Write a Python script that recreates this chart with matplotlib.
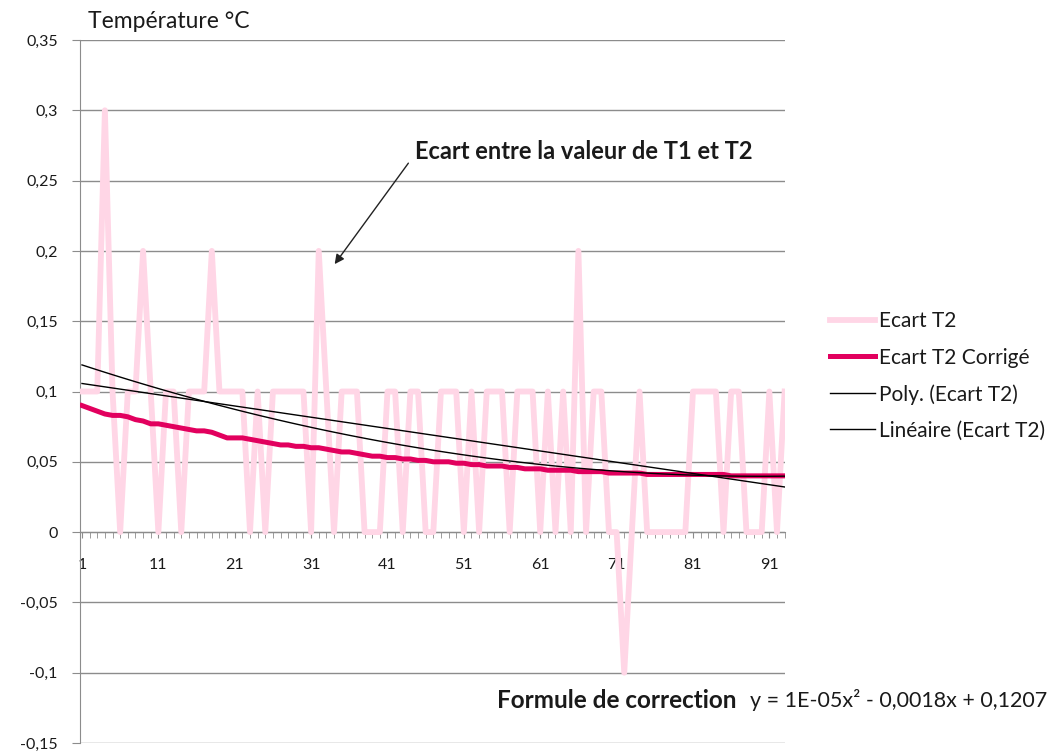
import numpy as np
import matplotlib
matplotlib.use("Agg")
import matplotlib.pyplot as plt
from matplotlib.ticker import FixedLocator

plt.rcParams['font.family'] = ['Lato', 'DejaVu Sans']

ecart_t2 = [
    0.1, 0.1, 0.1, 0.3, 0.1, 0.0, 0.1, 0.1, 0.2, 0.1,
    0.0, 0.1, 0.1, 0.0, 0.1, 0.1, 0.1, 0.2, 0.1, 0.1,
    0.1, 0.1, 0.0, 0.1, 0.0, 0.1, 0.1, 0.1, 0.1, 0.1,
    0.0, 0.2, 0.1, 0.0, 0.1, 0.1, 0.1, 0.0, 0.0, 0.0,
    0.1, 0.1, 0.0, 0.1, 0.1, 0.0, 0.0, 0.1, 0.1, 0.1,
    0.0, 0.1, 0.0, 0.1, 0.1, 0.1, 0.0, 0.1, 0.1, 0.1,
    0.0, 0.1, 0.0, 0.1, 0.0, 0.2, 0.0, 0.1, 0.1, 0.0,
    0.0, -0.1, 0.0, 0.1, 0.0, 0.0, 0.0, 0.0, 0.0, 0.0,
    0.1, 0.1, 0.1, 0.1, 0.0, 0.1, 0.1, 0.0, 0.0, 0.0,
    0.1, 0.0, 0.1,
]
ecart_t2_corr = [
    0.090, 0.088, 0.086, 0.084, 0.083, 0.083, 0.082, 0.080, 0.079, 0.077,
    0.077, 0.076, 0.075, 0.074, 0.073, 0.072, 0.072, 0.071, 0.069, 0.067,
    0.067, 0.067, 0.066, 0.065, 0.064, 0.063, 0.062, 0.062, 0.061, 0.061,
    0.060, 0.060, 0.059, 0.058, 0.057, 0.057, 0.056, 0.055, 0.054, 0.054,
    0.053, 0.053, 0.052, 0.052, 0.051, 0.051, 0.050, 0.050, 0.050, 0.049,
    0.049, 0.048, 0.048, 0.047, 0.047, 0.047, 0.046, 0.046, 0.045, 0.045,
    0.045, 0.044, 0.044, 0.044, 0.044, 0.043, 0.043, 0.043, 0.043, 0.042,
    0.042, 0.042, 0.042, 0.042, 0.041, 0.041, 0.041, 0.041, 0.041, 0.041,
    0.041, 0.041, 0.041, 0.041, 0.041, 0.040, 0.040, 0.040, 0.040, 0.040,
    0.040, 0.040, 0.040,
]
# Courbes de tendance (Excel)
poly_coef = [1e-05, -0.0018, 0.1207]
lin_coef = [-0.0008, 0.1065]

y_ticks = [0.35, 0.3, 0.25, 0.2, 0.15, 0.1, 0.05, 0.0, -0.05, -0.1, -0.15]
x_labels = [1, 11, 21, 31, 41, 51, 61, 71, 81, 91]

PINK = "#ffd6e6"
CRIMSON = "#e2005e"
GRID = "#8c8c8c"
TXT = "#1a1a1a"

x = np.arange(1, len(ecart_t2) + 1)

fig = plt.figure(figsize=(10.56, 7.53), dpi=100)
ax = fig.add_axes([80 / 1056, 10 / 753, (785 - 80) / 1056, (743 - 40) / 753])

ax.plot(x, ecart_t2, color=PINK, lw=4.2, label="Ecart T2", zorder=3)
ax.plot(x, ecart_t2_corr, color=CRIMSON, lw=3.6, label="Ecart T2 Corrigé", zorder=4)
ax.plot(x, np.polyval(poly_coef, x), color="black", lw=1.0,
        label="Poly. (Ecart T2)", zorder=5)
ax.plot(x, np.polyval(lin_coef, x), color="black", lw=1.0,
        label="Linéaire (Ecart T2)", zorder=5)

ax.set_xlim(0.74, 93.05)
ax.set_ylim(-0.15, 0.35)

# axes et grille
ax.set_yticks(y_ticks)
ax.set_yticklabels([f"{v:g}".replace(".", ",") for v in y_ticks])
ax.yaxis.grid(True, color=GRID, lw=1.0)
ax.set_axisbelow(True)
ax.tick_params(axis="y", length=6, color=GRID, pad=10, labelsize=11.5, labelcolor=TXT)

ax.spines["top"].set_visible(False)
ax.spines["right"].set_visible(False)
ax.spines["left"].set_color(GRID)
ax.spines["bottom"].set_position(("data", 0))
ax.spines["bottom"].set_color(GRID)

ax.xaxis.set_major_locator(FixedLocator(x_labels))
ax.set_xticklabels([str(v) for v in x_labels])
ax.xaxis.set_minor_locator(FixedLocator(x))
ax.tick_params(axis="x", which="both", length=4, color=GRID, direction="out")
ax.tick_params(axis="x", which="major", pad=15, labelsize=11.5, labelcolor=TXT)

# textes
fig.text(88 / 1056, 1 - 22 / 753, "Température °C", fontsize=16.5, color=TXT,
         va="center", ha="left")

ax.annotate("", xy=(33.87, 0.189), xytext=(43.95, 0.264),
            arrowprops=dict(arrowstyle="-|>", color="#222222", lw=1.0,
                            mutation_scale=14))
ax.text(44.6, 0.271, "Ecart entre la valeur de T1 et T2", fontsize=17,
        fontweight="bold", color=TXT, va="center", ha="left")

fig.text(497 / 1056, 1 - 700 / 753, "Formule de correction", fontsize=17.5,
         fontweight="bold", color=TXT, va="center", ha="left")
fig.text(750 / 1056, 1 - 700 / 753, "y = 1E-05x² - 0,0018x + 0,1207",
         fontsize=15.5, color=TXT, va="center", ha="left")

fig.legend(loc="upper left", bbox_to_anchor=(820 / 1056, 1 - 301 / 753),
           frameon=False, fontsize=15, handlelength=2.15, handletextpad=0.2,
           labelspacing=0.78, borderpad=0, labelcolor=TXT)

fig.savefig("out.png", dpi=100)
